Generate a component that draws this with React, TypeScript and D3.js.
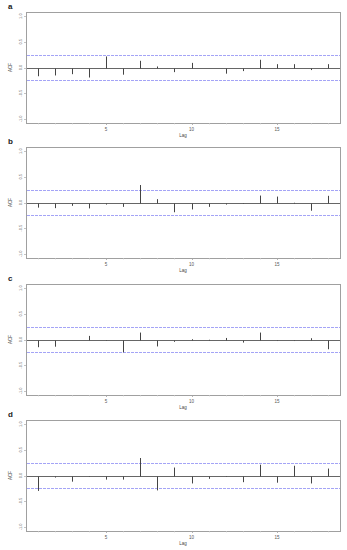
import React from "react";
import * as d3 from "d3";

const lags = d3.range(1, 19);
const panelLabels = ["a", "b", "c", "d"];
const acfA = [-0.17, -0.155, -0.13, -0.195, 0.215, -0.14, 0.13, 0.02, -0.09, 0.09, -0.02, -0.12, -0.07, 0.15, 0.065, 0.065, -0.05, 0.065];
const acfB = [-0.1, -0.11, -0.065, -0.115, -0.04, -0.085, 0.34, 0.065, -0.19, -0.135, -0.085, -0.04, -0.01, 0.135, 0.115, -0.005, -0.16, 0.13];
const acfC = [-0.15, -0.14, -0.02, 0.07, -0.01, -0.25, 0.135, -0.135, -0.045, 0.005, -0.005, 0.03, -0.06, 0.135, -0.03, -0.03, 0.025, -0.19];
const acfD = [-0.3, -0.04, -0.12, -0.01, -0.08, -0.08, 0.34, -0.29, 0.155, -0.155, -0.065, -0.01, -0.13, 0.21, -0.14, 0.19, -0.155, 0.135];
const series = [acfA, acfB, acfC, acfD];
const ciBound = 0.235;
const yTicks = [-1, -0.5, 0, 0.5, 1];
const xTickLabels = [5, 10, 15];

const W = 347;
const H = 550;
const panelTops = [12, 147, 284, 420];
const boxH = 111;
const boxLeft = 26;
const boxRight = 340;

const x = d3.scaleLinear().domain([0.32, 18.68]).range([boxLeft, boxRight]);
const snap = (v: number) => Math.round(v) + 0.5;

function Panel({ top, values, label }: { top: number; values: number[]; label: string }) {
  const y = d3.scaleLinear().domain([-1.08, 1.08]).range([top + boxH, top]);
  const bottom = top + boxH;
  const fmt = (v: number) => v.toFixed(1);
  const y0 = snap(y(0));
  return (
    <g>
      <text x={8} y={top - 3} fontSize={8} fontWeight="bold" fontFamily="Liberation Sans, Arial, sans-serif" fill="#222">
        {label}
      </text>
      <rect x={boxLeft + 0.5} y={top + 0.5} width={boxRight - boxLeft} height={boxH} fill="none" stroke="#a0a0a0" strokeWidth={1} />
      {yTicks.map((t) => (
        <g key={t}>
          <line x1={boxLeft - 2} x2={boxLeft} y1={snap(y(t))} y2={snap(y(t))} stroke="#aaa" strokeWidth={0.7} />
          <text
            transform={`translate(${boxLeft - 4},${y(t)}) rotate(-90)`}
            textAnchor="middle"
            fontSize={4}
            fontFamily="Liberation Sans, Arial, sans-serif"
            fill="#666"
          >
            {fmt(t)}
          </text>
        </g>
      ))}
      <text
        transform={`translate(12,${y(0)}) rotate(-90)`}
        textAnchor="middle"
        fontSize={4.5}
        fontFamily="Liberation Sans, Arial, sans-serif"
        fill="#444"
      >
        ACF
      </text>
      {lags.map((l) => (
        <line key={l} x1={snap(x(l))} x2={snap(x(l))} y1={bottom} y2={bottom + 1.5} stroke="#ccc" strokeWidth={0.6} />
      ))}
      {xTickLabels.map((t) => (
        <g key={t}>
          <line x1={snap(x(t))} x2={snap(x(t))} y1={bottom} y2={bottom + 2} stroke="#999" strokeWidth={0.7} />
          <text x={x(t)} y={bottom + 8} textAnchor="middle" fontSize={4.5} fontFamily="Liberation Sans, Arial, sans-serif" fill="#555">
            {t}
          </text>
        </g>
      ))}
      <text x={(boxLeft + boxRight) / 2} y={bottom + 14} textAnchor="middle" fontSize={4.5} fontFamily="Liberation Sans, Arial, sans-serif" fill="#444">
        Lag
      </text>
      {[ciBound, -ciBound].map((c) => (
        <line key={c} x1={boxLeft + 1} x2={boxRight} y1={snap(y(c))} y2={snap(y(c))} stroke="#a4a4f6" strokeWidth={1} strokeDasharray="3,1" />
      ))}
      <line x1={boxLeft + 1} x2={boxRight} y1={y0} y2={y0} stroke="#666" strokeWidth={1} />
      {values.map((v, i) => (
        <line key={i} x1={snap(x(lags[i]))} x2={snap(x(lags[i]))} y1={y0} y2={y(v)} stroke="#444" strokeWidth={1} />
      ))}
    </g>
  );
}

export default function App() {
  return (
    <svg width={W} height={H} style={{ position: "absolute", left: 0, top: 0, background: "#fff" }}>
      <rect x={0} y={0} width={W} height={H} fill="#fff" />
      {series.map((vals, i) => (
        <Panel key={i} top={panelTops[i]} values={vals} label={panelLabels[i]} />
      ))}
    </svg>
  );
}
